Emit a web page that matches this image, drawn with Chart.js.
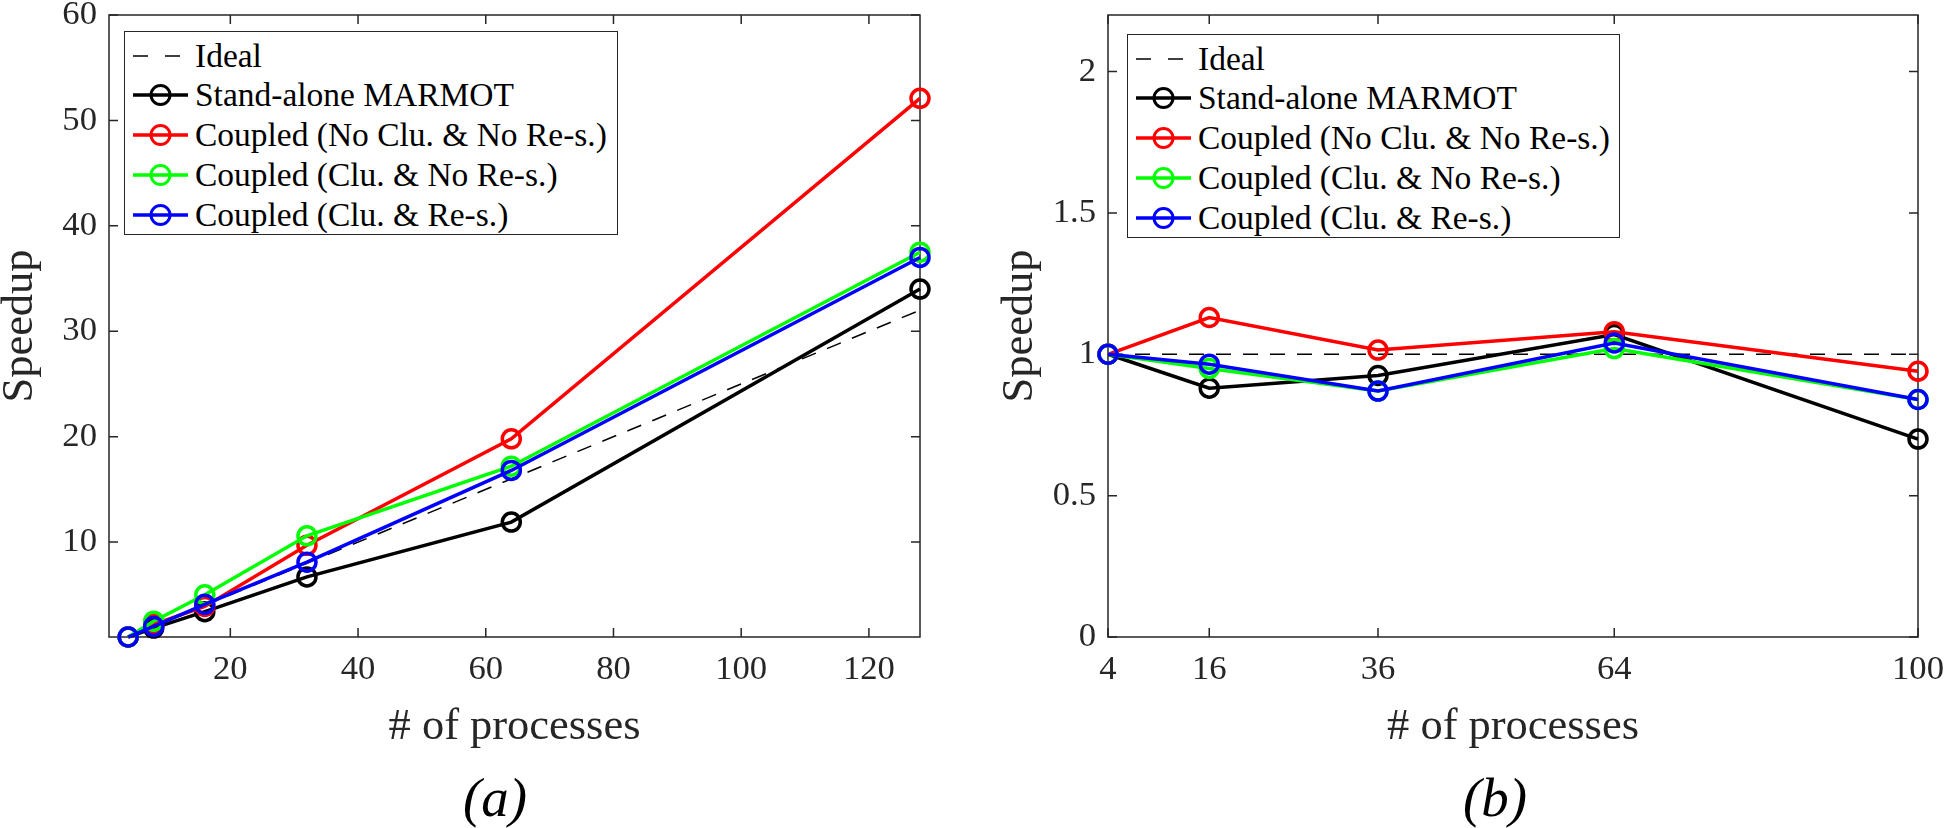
<!DOCTYPE html>
<html>
<head>
<meta charset="utf-8">
<script src="https://cdn.jsdelivr.net/npm/chart.js@4.4.0/dist/chart.umd.min.js"></script>
<style>
  html, body { margin:0; padding:0; background:#fff; width:1951px; height:828px; overflow:hidden; }
  .panel { position:absolute; top:0; height:828px; }
  .legend { position:absolute; background:#fff; border:1.5px solid #262626; box-sizing:border-box; }
  .row { position:absolute; left:0; height:40px; line-height:40px; color:#000; white-space:nowrap; }
  .row svg { position:absolute; left:6px; top:0; }
  .row span { position:absolute; left:70px; top:0; }
  .cap { position:absolute; font-style:italic; color:#000; transform:translateX(-50%); white-space:nowrap; }
</style>
</head>
<body>
<div class="panel" style="left:0;width:975px"><canvas id="ca" width="975" height="828"></canvas></div>
<div class="panel" style="left:975px;width:976px"><canvas id="cb" width="976" height="828"></canvas></div>
<div class="legend" id="lga" style="left:124px;top:31px;width:494px;height:204px"></div>
<div class="legend" id="lgb" style="left:1127px;top:34px;width:493px;height:204px"></div>
<div class="cap" id="capa" style="left:495px">(a)</div>
<div class="cap" id="capb" style="left:1495px">(b)</div>
<script>
// ---------------- data ----------------
const seriesLabels = ['Ideal', 'Stand-alone MARMOT', 'Coupled (No Clu. & No Re-s.)', 'Coupled (Clu. & No Re-s.)', 'Coupled (Clu. & Re-s.)'];
const seriesColors = ['#000000', '#000000', '#ff0000', '#00ff00', '#0000ff'];

// panel (a)
const procsA = [4, 8, 16, 32, 64, 128];
const idealA = [1, 2, 4, 8, 16, 32];
const standaloneA = [1, 1.85, 3.4, 6.7, 11.9, 34.0];
const noCluNoResA = [1, 2.2, 3.9, 9.7, 19.8, 52.1];
const cluNoResA = [1, 2.5, 5.0, 10.6, 17.2, 37.5];
const cluResA = [1, 2.0, 4.1, 8.1, 16.8, 37.0];
const xTicksA = [20, 40, 60, 80, 100, 120];
const yTicksA = [10, 20, 30, 40, 50, 60];

// panel (b)
const procsB = [4, 16, 36, 64, 100];
const idealB = [1, 1, 1, 1, 1];
const standaloneB = [1, 0.88, 0.925, 1.07, 0.70];
const noCluNoResB = [1, 1.13, 1.015, 1.08, 0.94];
const cluNoResB = [1, 0.95, 0.87, 1.02, 0.84];
const cluResB = [1, 0.965, 0.87, 1.04, 0.84];
const xTicksB = [4, 16, 36, 64, 100];
const yTicksB = [0, 0.5, 1, 1.5, 2];

const xTitle = '# of processes';
const yTitle = 'Speedup';

// ---------------- fonts ----------------
const mctx = document.createElement('canvas').getContext('2d');
function hasFont(name) {
  const s = 'Coupled (No Clu. & No Re-s.) 0123456789 Speedup';
  return ['monospace', 'sans-serif'].some(b => {
    mctx.font = '72px ' + b; const w0 = mctx.measureText(s).width;
    mctx.font = '72px "' + name + '", ' + b; const w1 = mctx.measureText(s).width;
    return Math.abs(w0 - w1) > 0.5;
  });
}
const candidates = ['Liberation Serif', 'Tinos', 'Times New Roman', 'Nimbus Roman', 'Nimbus Roman No9 L',
  'FreeSerif', 'DejaVu Serif', 'Noto Serif', 'Times'];
let FONT = 'serif';
for (const c of candidates) { if (hasFont(c)) { FONT = '"' + c + '", serif'; break; } }
// font size chosen so that a reference string has the width measured on the original figure
function sizeFor(text, width, style) {
  mctx.font = (style || '') + ' 100px ' + FONT;
  return 100 * width / mctx.measureText(text).width;
}
const TICK_SIZE = sizeFor('120', 52);
const LEG_SIZE = sizeFor('Coupled (No Clu. & No Re-s.)', 412);
const TITLE_SIZE = sizeFor('# of processes', 252);
const CAP_SIZE = sizeFor('(a)', 64, 'italic');

const AXIS = '#262626';
const H = 828;

const framePlugin = {
  id: 'frame',
  beforeDatasetsDraw(chart) {
    const {ctx, chartArea: a, scales: {x, y}} = chart;
    const L = 9;
    ctx.save();
    ctx.strokeStyle = AXIS;
    ctx.lineWidth = 1.5;
    ctx.strokeRect(a.left, a.top, a.right - a.left, a.bottom - a.top);
    ctx.beginPath();
    x.ticks.forEach(t => {
      const p = x.getPixelForValue(t.value);
      ctx.moveTo(p, a.bottom); ctx.lineTo(p, a.bottom - L);
      ctx.moveTo(p, a.top); ctx.lineTo(p, a.top + L);
    });
    y.ticks.forEach(t => {
      const p = y.getPixelForValue(t.value);
      ctx.moveTo(a.left, p); ctx.lineTo(a.left + L, p);
      ctx.moveTo(a.right, p); ctx.lineTo(a.right - L, p);
    });
    ctx.stroke();
    ctx.restore();
  }
};

function pts(xs, ys) { return xs.map((x, i) => ({x: x, y: ys[i]})); }

function makeChart(id, xs, allY, xTicks, yTicks, xr, yr, g) {
  const datasets = allY.map((ys, i) => {
    const base = {
      label: seriesLabels[i], data: pts(xs, ys), borderColor: seriesColors[i],
      clip: false, tension: 0, order: allY.length - 1 - i
    };
    if (i === 0) {
      return Object.assign(base, {borderWidth: 1.5, borderDash: [15, 12], pointRadius: 0});
    }
    return Object.assign(base, {
      borderWidth: 3.5, pointRadius: 9, pointBorderWidth: 3.5, pointHoverRadius: 9,
      pointBackgroundColor: 'rgba(0,0,0,0)', pointBorderColor: seriesColors[i]
    });
  });
  return new Chart(document.getElementById(id), {
    type: 'line',
    data: {datasets},
    options: {
      responsive: false, animation: false,
      layout: {autoPadding: false, padding: {top: g.top, right: g.right, bottom: 0, left: 0}},
      plugins: {legend: {display: false}, tooltip: {enabled: false}},
      scales: {
        x: {
          type: 'linear', min: xr[0], max: xr[1],
          grid: {display: false, drawTicks: false}, border: {display: false},
          ticks: {font: {family: FONT, size: TICK_SIZE}, color: AXIS, padding: 12, autoSkip: false, maxRotation: 0,
                  callback: v => String(v)},
          afterBuildTicks: s => { s.ticks = xTicks.map(v => ({value: v})); },
          afterFit: s => { s.height = H - g.bottom; s.paddingLeft = 0; s.paddingRight = 0; },
          title: {display: true, text: xTitle, color: AXIS, font: {family: FONT, size: TITLE_SIZE, lineHeight: 1.2},
                  padding: {top: 0, bottom: 101 - TITLE_SIZE * 0.6}}
        },
        y: {
          type: 'linear', min: yr[0], max: yr[1],
          grid: {display: false, drawTicks: false}, border: {display: false},
          ticks: {font: {family: FONT, size: TICK_SIZE}, color: AXIS, padding: 12, autoSkip: false,
                  callback: v => String(v)},
          afterBuildTicks: s => { s.ticks = yTicks.map(v => ({value: v})); },
          afterFit: s => { s.width = g.left; s.paddingTop = 0; s.paddingBottom = 0; },
          title: {display: true, text: yTitle, color: AXIS, font: {family: FONT, size: TITLE_SIZE, lineHeight: 1.2},
                  padding: {top: g.yTitleMid - TITLE_SIZE * 0.6, bottom: 0}}
        }
      }
    },
    plugins: [framePlugin]
  });
}

makeChart('ca', procsA, [idealA, standaloneA, noCluNoResA, cluNoResA, cluResA], xTicksA, yTicksA,
  [1, 128], [1, 60], {top: 15, right: 975 - 920, left: 109, bottom: 637, yTitleMid: 20});
makeChart('cb', procsB, [idealB, standaloneB, noCluNoResB, cluNoResB, cluResB], xTicksB, yTicksB,
  [4, 100], [0, 2.2], {top: 15, right: 976 - 943, left: 133, bottom: 637, yTitleMid: 45});

// ---------------- legends (HTML, built from the series arrays) ----------------
function buildLegend(id) {
  const box = document.getElementById(id);
  box.style.fontFamily = FONT;
  seriesLabels.forEach((lab, i) => {
    const row = document.createElement('div');
    row.className = 'row';
    row.style.top = (3.5 + 39.8 * i) + 'px';
    row.style.width = '100%';
    row.style.fontSize = LEG_SIZE + 'px';
    const c = seriesColors[i];
    let svg;
    if (i === 0) {
      svg = '<svg width="60" height="40"><line x1="2" y1="20" x2="50" y2="20" stroke="' + c +
            '" stroke-width="1.6" stroke-dasharray="15 17"/></svg>';
    } else {
      svg = '<svg width="60" height="40"><line x1="2" y1="20" x2="57" y2="20" stroke="' + c +
            '" stroke-width="3.5"/><circle cx="29.5" cy="20" r="9.5" fill="none" stroke="' + c +
            '" stroke-width="3"/></svg>';
    }
    row.innerHTML = svg + '<span>' + lab.replace(/&/g, '&amp;') + '</span>';
    box.appendChild(row);
  });
}
buildLegend('lga');
buildLegend('lgb');
['capa', 'capb'].forEach(id => {
  const el = document.getElementById(id);
  el.style.fontFamily = FONT;
  el.style.fontSize = CAP_SIZE + 'px';
  el.style.lineHeight = CAP_SIZE + 'px';
  el.style.top = (817 - CAP_SIZE * 0.84) + 'px';
});
</script>
</body>
</html>
